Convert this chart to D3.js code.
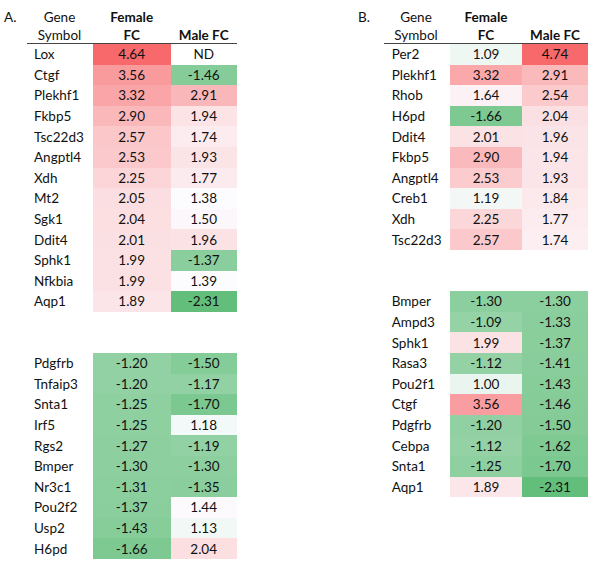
<!DOCTYPE html>
<html>
<head>
<meta charset="utf-8">
<script src="https://cdn.jsdelivr.net/npm/d3@7"></script>
<style>
  html, body { margin: 0; padding: 0; background: #fff; }
  svg { display: block; }
  text { font-family: Lato, "Noto Sans", sans-serif; fill: #111; }
</style>
</head>
<body>
<svg id="chart" width="600" height="562"></svg>
<script>
// ---------- DATA ----------
const panelLabels = ["A.", "B."];
const headerGene = ["Gene", "Symbol"];
const headerFemale = ["Female", "FC"];
const headerMale = ["", "Male FC"];

// Panel A, upper block
const genesA1  = ["Lox","Ctgf","Plekhf1","Fkbp5","Tsc22d3","Angptl4","Xdh","Mt2","Sgk1","Ddit4","Sphk1","Nfkbia","Aqp1"];
const femaleA1 = [4.64, 3.56, 3.32, 2.90, 2.57, 2.53, 2.25, 2.05, 2.04, 2.01, 1.99, 1.99, 1.89];
const maleA1   = [null, -1.46, 2.91, 1.94, 1.74, 1.93, 1.77, 1.38, 1.50, 1.96, -1.37, 1.39, -2.31];
// Panel A, lower block
const genesA2  = ["Pdgfrb","Tnfaip3","Snta1","Irf5","Rgs2","Bmper","Nr3c1","Pou2f2","Usp2","H6pd"];
const femaleA2 = [-1.20, -1.20, -1.25, -1.25, -1.27, -1.30, -1.31, -1.37, -1.43, -1.66];
const maleA2   = [-1.50, -1.17, -1.70, 1.18, -1.19, -1.30, -1.35, 1.44, 1.13, 2.04];

// Panel B, upper block
const genesB1  = ["Per2","Plekhf1","Rhob","H6pd","Ddit4","Fkbp5","Angptl4","Creb1","Xdh","Tsc22d3"];
const femaleB1 = [1.09, 3.32, 1.64, -1.66, 2.01, 2.90, 2.53, 1.19, 2.25, 2.57];
const maleB1   = [4.74, 2.91, 2.54, 2.04, 1.96, 1.94, 1.93, 1.84, 1.77, 1.74];
// Panel B, lower block
const genesB2  = ["Bmper","Ampd3","Sphk1","Rasa3","Pou2f1","Ctgf","Pdgfrb","Cebpa","Snta1","Aqp1"];
const femaleB2 = [-1.30, -1.09, 1.99, -1.12, 1.00, 3.56, -1.20, -1.12, -1.25, 1.89];
const maleB2   = [-1.30, -1.33, -1.37, -1.41, -1.43, -1.46, -1.50, -1.62, -1.70, -2.31];

const missingLabel = "ND";

// ---------- LAYOUT ----------
const svg = d3.select("#chart");
const gapRows = 2;
const y = d3.scaleBand().domain(d3.range(25)).range([44, 559]).paddingInner(0).paddingOuter(0);
const bw = y.bandwidth();

const lowC = "#63BE7B", midC = "#FCFCFF", highC = "#F8696B";
const fmt = v => v.toFixed(2);

function buildRows(g1, f1, m1, g2, f2, m2) {
  const rows = [];
  g1.forEach((g, i) => rows.push({gene: g, female: f1[i], male: m1[i], idx: i}));
  g2.forEach((g, i) => rows.push({gene: g, female: f2[i], male: m2[i], idx: g1.length + gapRows + i}));
  return rows;
}

function drawPanel(cfg) {
  const g = svg.append("g");
  const rows = cfg.rows;
  const vals = rows.flatMap(r => [r.female, r.male]).filter(v => v != null);
  const vmin = d3.min(vals), vmax = d3.max(vals), vmid = d3.median(vals);
  const lowScale = d3.scaleLinear().domain([vmin, vmid]).range([lowC, midC]).interpolate(d3.interpolateRgb).clamp(true);
  const highScale = d3.scaleLinear().domain([vmid, vmax]).range([midC, highC]).interpolate(d3.interpolateRgb).clamp(true);
  const color = v => v <= vmid ? lowScale(v) : highScale(v);

  const cols = [
    {key: "female", x0: cfg.femaleX[0], x1: cfg.femaleX[1]},
    {key: "male", x0: cfg.maleX[0], x1: cfg.maleX[1]}
  ];

  // cells
  cols.forEach(c => {
    g.selectAll(null).data(rows.filter(r => r[c.key] != null)).enter()
      .append("rect")
      .attr("x", Math.round(c.x0))
      .attr("width", Math.round(c.x1) - Math.round(c.x0))
      .attr("y", d => Math.round(y(d.idx)))
      .attr("height", d => Math.round(y(d.idx) + bw) - Math.round(y(d.idx)))
      .attr("fill", d => color(d[c.key]))
      .attr("shape-rendering", "crispEdges");
    g.selectAll(null).data(rows).enter()
      .append("text")
      .attr("x", (c.x0 + c.x1) / 2)
      .attr("y", d => y(d.idx) + bw / 2)
      .attr("dy", "0.36em")
      .attr("text-anchor", "middle")
      .style("font-size", "13.5px")
      .text(d => d[c.key] == null ? missingLabel : fmt(d[c.key]));
  });

  // gene labels
  g.selectAll(null).data(rows).enter()
    .append("text")
    .attr("x", cfg.labelX)
    .attr("y", d => y(d.idx) + bw / 2)
    .attr("dy", "0.36em")
    .style("font-size", "13.5px")
    .text(d => d.gene);

  // headers
  const hy = [21.5, 40];
  g.append("text").attr("x", cfg.panelX).attr("y", hy[0]).style("font-size", "13.5px").text(cfg.panelLabel);
  headerGene.forEach((t, i) => g.append("text").attr("x", cfg.geneHeadX).attr("y", hy[i])
    .attr("text-anchor", "middle").style("font-size", "13.5px").text(t));
  headerFemale.forEach((t, i) => g.append("text").attr("x", (cols[0].x0 + cols[0].x1) / 2).attr("y", hy[i])
    .attr("text-anchor", "middle").style("font-size", "13.5px").style("font-weight", "bold").text(t));
  headerMale.forEach((t, i) => g.append("text").attr("x", (cols[1].x0 + cols[1].x1) / 2).attr("y", hy[i])
    .attr("text-anchor", "middle").style("font-size", "13.5px").style("font-weight", "bold").text(t));

  g.append("line").attr("x1", cfg.lineX[0]).attr("x2", cfg.lineX[1])
    .attr("y1", 43.5).attr("y2", 43.5).attr("stroke", "#444").attr("stroke-width", 1);
}

drawPanel({
  rows: buildRows(genesA1, femaleA1, maleA1, genesA2, femaleA2, maleA2),
  panelLabel: panelLabels[0], panelX: 4,
  labelX: 34, geneHeadX: 59.5,
  femaleX: [92.7, 170.7], maleX: [170.7, 236.7],
  lineX: [27, 237]
});
drawPanel({
  rows: buildRows(genesB1, femaleB1, maleB1, genesB2, femaleB2, maleB2),
  panelLabel: panelLabels[1], panelX: 358,
  labelX: 391.7, geneHeadX: 416,
  femaleX: [450, 522], maleX: [522, 588],
  lineX: [384, 588]
});
</script>
</body>
</html>
